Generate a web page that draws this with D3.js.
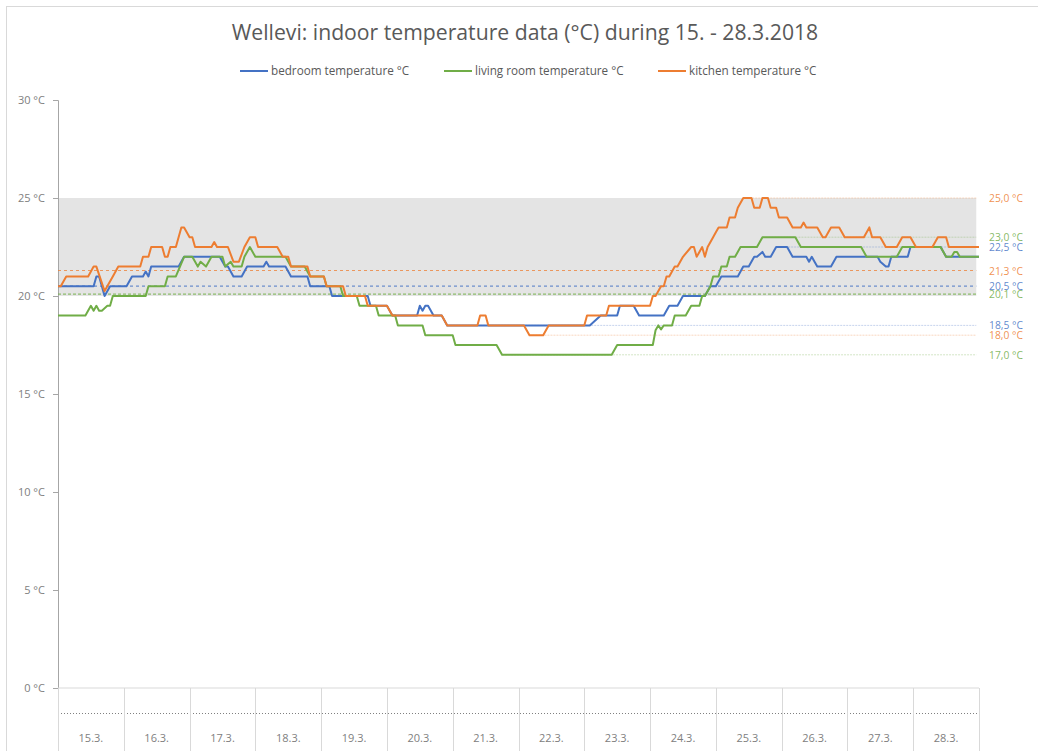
<!DOCTYPE html>
<html>
<head>
<meta charset="utf-8">
<script src="https://cdn.jsdelivr.net/npm/d3@7/dist/d3.min.js"></script>
<style>
  body { margin: 0; background: #fff; font-family: "Open Sans", sans-serif; }
</style>
</head>
<body>
<div id="chart"></div>
<script>
// Chart data (hours since 15.3. 00:00, temperature in °C)
var days = ["15.3.", "16.3.", "17.3.", "18.3.", "19.3.", "20.3.", "21.3.", "22.3.", "23.3.", "24.3.", "25.3.", "26.3.", "27.3.", "28.3."];
var yTicks = [0, 5, 10, 15, 20, 25, 30];
var seriesNames = ["bedroom temperature °C", "living room temperature °C", "kitchen temperature °C"];
var averages = [20.5, 20.1, 21.3];
var comfortBand = [20, 25];

var bedroom = [[0,20.5],[13,20.5],[14,21],[15,21],[16,20.5],[17,20],[19,20.5],[25,20.5],[27,21],[31,21],[32,21.25],[33,21],[34,21.5],[44,21.5],[46,22],[59,22],[61,21.5],[62,21.5],[64,21],[67,21],[69,21.5],[75,21.5],[76,21.75],[77,21.5],[83,21.5],[85,21],[91,21],[92,20.5],[99,20.5],[100,20],[113,20],[114,19.5],[120,19.5],[122,19],[131,19],[132,19.5],[133,19.25],[134,19.5],[135,19.5],[137,19],[140,19],[142,18.5],[194,18.5],[198,19],[204,19],[205,19.5],[210,19.5],[212,19],[221,19],[223,19.5],[226,19.5],[228,20],[236,20],[238,20.5],[240,20.5],[242,21],[248,21],[250,21.5],[252,21.5],[254,22],[255,22],[257,22.25],[258,22],[260,22],[262,22.5],[266,22.5],[268,22],[273,22],[274,21.75],[275,22],[276,21.75],[277,21.5],[282,21.5],[284,22],[299,22],[300,21.75],[302,21.5],[303,21.5],[304,22],[310,22],[311,22.5],[322,22.5],[324,22],[336,22]];

var livingRoom = [[0,19],[10,19],[12,19.5],[13,19.25],[14,19.5],[15,19.25],[16,19.25],[18,19.5],[19,19.5],[20,20],[32,20],[33,20.5],[39,20.5],[40,21],[43,21],[46,22],[49,22],[51,21.5],[52,21.75],[54,21.5],[56,22],[60,22],[61,21.5],[63,21.75],[64,21.5],[67,21.5],[68,22],[70,22.5],[72,22],[83,22],[85,21.5],[90,21.5],[92,21],[97,21],[98,20.5],[103,20.5],[104,20],[109,20],[110,19.5],[116,19.5],[117,19],[123,19],[124,18.5],[133,18.5],[134,18],[144,18],[145,17.5],[160,17.5],[162,17],[202,17],[204,17.5],[217,17.5],[218,18.25],[219,18.5],[220,18.3],[221,18.5],[224,18.5],[225,19],[229,19],[231,19.5],[234,19.5],[235,20],[236,20],[238,20.5],[239,21],[241,21],[242,21.5],[244,21.5],[245,22],[247,22],[249,22.5],[255,22.5],[257,23],[269,23],[271,22.5],[293,22.5],[295,22],[306,22],[308,22.5],[322,22.5],[324,22],[326,22],[327,22.25],[328,22.25],[329,22],[336,22]];

var kitchen = [[0,20.5],[1,20.5],[3,21],[11,21],[13,21.5],[14,21.5],[17,20.25],[20,21],[22,21.5],[30,21.5],[31,22],[33,22],[34,22.5],[38,22.5],[39,22],[40,22],[41,22.5],[43,22.5],[45,23.5],[46,23.5],[48,23],[49,23],[50,22.5],[56,22.5],[57,22.75],[58,22.5],[62,22.5],[64,21.75],[66,21.75],[68,22.5],[70,23],[72,23],[73,22.5],[80,22.5],[82,22],[84,22],[85,21.5],[91,21.5],[92,21],[97,21],[98,20.5],[104,20.5],[105,20],[112,20],[113,19.5],[120,19.5],[122,19],[140,19],[142,18.5],[153,18.5],[154,19],[156,19],[157,18.5],[170,18.5],[172,18],[177,18],[179,18.5],[192,18.5],[193,19],[200,19],[201,19.5],[216,19.5],[217,20],[218,20],[220,20.5],[221,20.5],[222,21],[223,21],[225,21.5],[226,21.5],[228,22],[231,22.5],[232,22.5],[233,22],[234,22.25],[235,22.5],[236,22],[237,22.5],[239,23],[240,23.25],[241,23.5],[244,23.5],[245,24],[247,24],[248,24.5],[250,25],[253,25],[254,24.5],[256,24.5],[257,25],[259,25],[260,24.5],[262,24.5],[263,24],[266,24],[268,23.5],[271,23.5],[272,23.75],[273,23.5],[277,23.5],[279,23],[280,23],[282,23.5],[285,23.5],[287,23],[294,23],[296,23.5],[297,23],[300,23],[302,22.5],[306,22.5],[308,23],[311,23],[313,22.5],[319,22.5],[321,23],[324,23],[325,22.5],[336,22.5]];

var seriesData = [bedroom, livingRoom, kitchen];
var colors = ["#4472c4", "#70ad47", "#ed7d31"];

var width = 1038;
var height = 751;
var margin = { top: 100, right: 59, bottom: 63, left: 58 };

var svg = d3.select("#chart")
    .append("svg")
    .attr("width", width)
    .attr("height", height);

// outer chart frame
svg.append("rect")
    .attr("x", 6.5).attr("y", 6.5)
    .attr("width", 1040).attr("height", 760)
    .attr("fill", "none")
    .attr("stroke", "#d9d9d9");

var x = d3.scaleLinear()
    .domain([0, 336])
    .range([margin.left, width - margin.right]);

var y = d3.scaleLinear()
    .domain([0, 30])
    .range([height - margin.bottom, margin.top]);

var xBand = d3.scaleBand()
    .domain(days)
    .range([margin.left, width - margin.right]);

// title
svg.append("text")
    .attr("x", 525).attr("y", 40)
    .attr("text-anchor", "middle")
    .attr("font-size", 21.2)
    .attr("fill", "#595959")
    .text("Wellevi: indoor temperature data (°C) during 15. - 28.3.2018");

// legend
var legendX = [240, 444, 658];
seriesNames.forEach(function(name, i) {
    svg.append("line")
        .attr("x1", legendX[i]).attr("x2", legendX[i] + 28)
        .attr("y1", 71).attr("y2", 71)
        .attr("stroke", colors[i]).attr("stroke-width", 2);
    svg.append("text")
        .attr("x", legendX[i] + 31).attr("y", 75)
        .attr("font-size", 11.7)
        .attr("fill", "#595959")
        .text(name);
});

// comfort band 20-25 °C
svg.append("rect")
    .attr("x", x(0))
    .attr("y", y(comfortBand[1]))
    .attr("width", x(335) - x(0))
    .attr("height", y(comfortBand[0]) - y(comfortBand[1]))
    .attr("fill", "#e4e4e4");

// y axis
var yAxis = svg.append("g")
    .attr("transform", "translate(" + margin.left + ",0)")
    .call(d3.axisLeft(y).tickValues(yTicks).tickSize(5).tickPadding(8)
        .tickFormat(function(d) { return d + " °C"; }));
yAxis.select(".domain").attr("stroke", "#a6a6a6");
yAxis.selectAll(".tick line").attr("stroke", "#a6a6a6");
yAxis.selectAll("text")
    .attr("font-family", "Open Sans, sans-serif")
    .attr("font-size", 11)
    .attr("fill", "#808080");

// bottom category axis (table style)
var axisY = height - margin.bottom;
svg.append("line")
    .attr("x1", x(0)).attr("x2", x(336))
    .attr("y1", axisY).attr("y2", axisY)
    .attr("stroke", "#d9d9d9");
svg.append("line")
    .attr("x1", x(0)).attr("x2", x(336))
    .attr("y1", axisY + 25.5).attr("y2", axisY + 25.5)
    .attr("stroke", "#808080")
    .attr("stroke-dasharray", "1,2");
svg.selectAll(".sep")
    .data(days.concat(["end"]))
    .enter().append("line")
    .attr("x1", function(d, i) { return Math.round(margin.left + i * xBand.step()) + 0.5; })
    .attr("x2", function(d, i) { return Math.round(margin.left + i * xBand.step()) + 0.5; })
    .attr("y1", axisY).attr("y2", height)
    .attr("stroke", "#d9d9d9");
svg.selectAll(".daylabel")
    .data(days)
    .enter().append("text")
    .attr("x", function(d) { return xBand(d) + xBand.bandwidth() / 2; })
    .attr("y", axisY + 54)
    .attr("text-anchor", "middle")
    .attr("font-size", 11)
    .attr("fill", "#808080")
    .text(function(d) { return d; });

// average lines (dashed)
averages.forEach(function(v, i) {
    svg.append("line")
        .attr("x1", x(0)).attr("x2", x(335))
        .attr("y1", y(v)).attr("y2", y(v))
        .attr("stroke", colors[i])
        .attr("stroke-opacity", 0.75)
        .attr("stroke-width", 1.2)
        .attr("stroke-dasharray", i === 1 ? "3,2" : "3,3");
});

// min / max guide lines from their first occurrence
var extremes = [];
seriesData.forEach(function(data, i) {
    var mx = d3.max(data, function(d) { return d[1]; });
    var mn = d3.min(data, function(d) { return d[1]; });
    var firstMax = data.find(function(d) { return d[1] === mx; })[0];
    var firstMin = data.find(function(d) { return d[1] === mn; })[0];
    extremes.push({ v: mx, t: firstMax, i: i });
    extremes.push({ v: mn, t: firstMin, i: i });
});
svg.selectAll(".guide")
    .data(extremes)
    .enter().append("line")
    .attr("x1", function(d) { return x(d.t); })
    .attr("x2", x(335))
    .attr("y1", function(d) { return y(d.v); })
    .attr("y2", function(d) { return y(d.v); })
    .attr("stroke", function(d) { return colors[d.i]; })
    .attr("stroke-opacity", 0.3)
    .attr("stroke-dasharray", "2,1");

// temperature lines
var line = d3.line()
    .x(function(d) { return x(d[0]); })
    .y(function(d) { return y(d[1]); });

seriesData.forEach(function(data, i) {
    svg.append("path")
        .datum(data)
        .attr("fill", "none")
        .attr("stroke", colors[i])
        .attr("stroke-width", 2)
        .attr("stroke-linejoin", "round")
        .attr("d", line);
});

// right side value labels
var fmt = function(v) { return d3.format(".1f")(v).replace(".", ",") + " °C"; };
var labels = extremes.map(function(d) { return { v: d.v, i: d.i }; });
averages.forEach(function(v, i) { labels.push({ v: v, i: i }); });
svg.selectAll(".vlabel")
    .data(labels)
    .enter().append("text")
    .attr("x", 989)
    .attr("y", function(d) { return y(d.v) + 4; })
    .attr("font-size", 10.3)
    .attr("fill", function(d) { return colors[d.i]; })
    .attr("fill-opacity", 0.85)
    .text(function(d) { return fmt(d.v); });
</script>
</body>
</html>
